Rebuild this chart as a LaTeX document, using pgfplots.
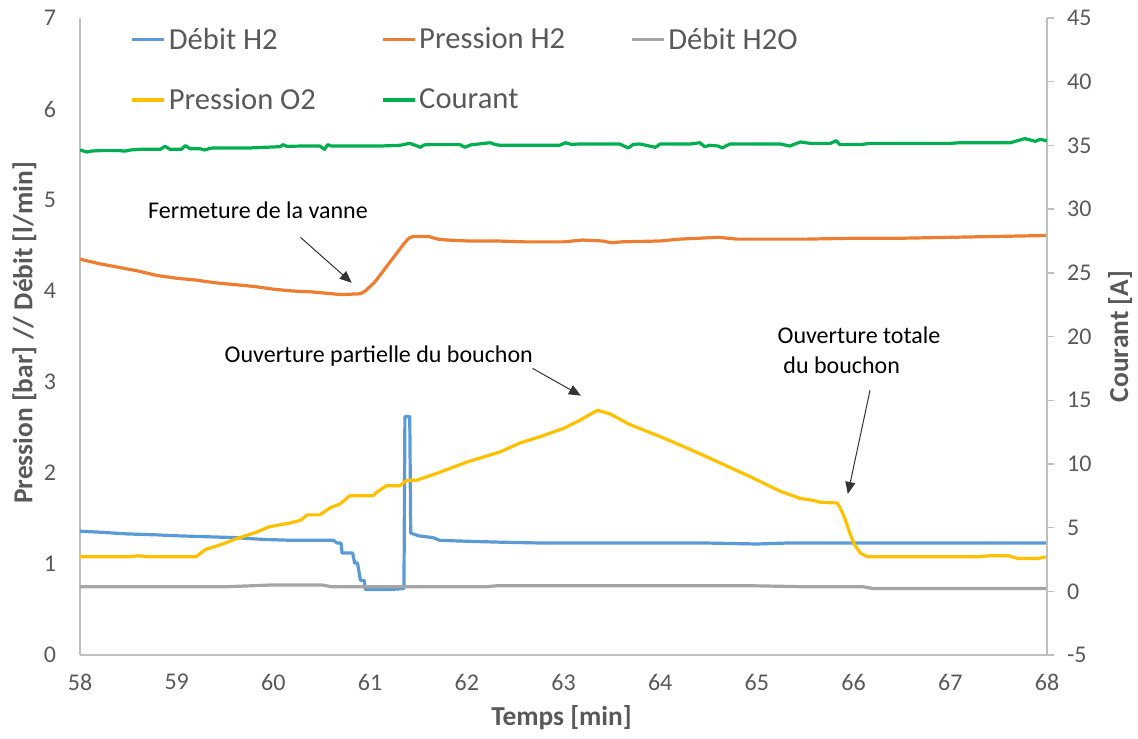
\documentclass[border=0pt]{standalone}
\usepackage{fontspec}
\setmainfont{Carlito}
\usepackage{pgfplots}
\pgfplotsset{compat=1.18}
\usetikzlibrary{arrows.meta}
\definecolor{cblue}{HTML}{5B9BD5}
\definecolor{corange}{HTML}{ED7D31}
\definecolor{cgray}{HTML}{A5A5A5}
\definecolor{cyellow}{HTML}{FFC000}
\definecolor{cgreen}{HTML}{00B050}
\definecolor{axgray}{HTML}{BFBFBF}
\definecolor{txgray}{HTML}{595959}
\pgfplotsset{
  mylines/.style={line width=1.6pt, line join=round, no marks},
  legend image code/.code={\draw[#1, line width=1.6pt] (0pt,0pt) -- (16pt,0pt);},
}
\begin{document}
\begin{tikzpicture}
\begin{axis}[
  at={(0pt,0pt)}, anchor=south west,
  scale only axis, width=483.5pt, height=318.5pt,
  xmin=58, xmax=68, ymin=0, ymax=7,
  axis y line*=left, axis x line*=bottom,
  axis line style={draw=axgray, line width=0.7pt, -},
  xtick={58,59,...,68}, ytick={0,1,...,7},
  major tick length=0pt,
  tick label style={font=\fontsize{12}{14}\selectfont, text=txgray},
  /pgf/number format/assume math mode=true,
  xticklabel style={yshift=-6pt},
  yticklabel style={xshift=-8.5pt},
  xlabel={Temps [min]},
  ylabel={Pression [bar] // Débit [l/min]},
  every axis x label/.style={at={(axis description cs:0.498,-0.099)}, anchor=center,
    font=\fontsize{13.7}{16}\selectfont\bfseries, text=txgray},
  every axis y label/.style={at={(axis description cs:-0.0574,0.5055)}, anchor=center, rotate=90,
    font=\fontsize{13.7}{16}\selectfont\bfseries, text=txgray},
  legend columns=3, legend cell align=left,
  legend style={draw=none, fill=none, at={(axis description cs:0.052,0.99)}, anchor=north west,
    font=\fontsize{15.3}{18}\selectfont, text=txgray, inner sep=0pt, row sep=15pt,
    nodes={inner sep=1.5pt},
    /tikz/every even column/.append style={column sep=31pt}},
  clip=false,
]
\addplot[mylines, cblue] coordinates {
(58.00,1.36) (58.20,1.35) (58.50,1.33) (58.80,1.32) (59.00,1.31) (59.30,1.30)
(59.60,1.29) (59.90,1.27) (60.20,1.26) (60.62,1.26) (60.66,1.23) (60.70,1.23)
(60.71,1.12) (60.82,1.12) (60.84,1.01) (60.87,1.01) (60.90,0.82) (60.94,0.82)
(60.95,0.72) (61.20,0.72) (61.35,0.73) (61.36,2.62) (61.41,2.62) (61.42,1.34)
(61.50,1.31) (61.65,1.29) (61.72,1.26) (62.00,1.25) (62.34,1.24) (62.80,1.23)
(63.50,1.23) (64.00,1.23) (64.50,1.23) (65.00,1.22) (65.30,1.23) (66.00,1.23)
(67.00,1.23) (68.00,1.23)
};
\addlegendentry{Débit H2}
\addplot[mylines, corange] coordinates {
(58.0,4.35) (58.2,4.30) (58.4,4.26) (58.6,4.22) (58.8,4.17) (59.0,4.14)
(59.2,4.12) (59.4,4.09) (59.6,4.07) (59.8,4.05) (60.0,4.02) (60.2,4.00)
(60.4,3.99) (60.6,3.97) (60.7,3.96) (60.9,3.97) (60.95,4.00) (61.0,4.05)
(61.05,4.10) (61.1,4.17) (61.15,4.24) (61.2,4.31) (61.25,4.38) (61.3,4.45)
(61.35,4.52) (61.4,4.58) (61.45,4.60) (61.6,4.60) (61.7,4.57) (61.8,4.56)
(62.0,4.55) (62.3,4.55) (62.6,4.54) (63.0,4.54) (63.2,4.56) (63.4,4.55)
(63.5,4.53) (63.6,4.54) (64.0,4.55) (64.2,4.57) (64.4,4.58) (64.6,4.59)
(64.8,4.57) (65.0,4.57) (65.5,4.57) (66.0,4.58) (66.5,4.58) (67.0,4.59)
(67.5,4.60) (68.0,4.61)
};
\addlegendentry{Pression H2}
\addplot[mylines, cgray] coordinates {
(58.00,0.75) (59.50,0.75) (60.00,0.77) (60.50,0.77) (60.60,0.75) (61.00,0.75)
(62.20,0.75) (62.30,0.76) (65.00,0.76) (65.50,0.75) (66.10,0.75) (66.20,0.73)
(68.00,0.73)
};
\addlegendentry{Débit H2O}
\addplot[mylines, cyellow] coordinates {
(58.00,1.08) (58.50,1.08) (58.60,1.09) (58.70,1.08) (59.20,1.08) (59.30,1.16)
(59.45,1.21) (59.65,1.29) (59.80,1.34) (59.96,1.41) (60.17,1.45) (60.28,1.48)
(60.35,1.54) (60.48,1.54) (60.59,1.62) (60.69,1.66) (60.79,1.75) (61.03,1.75)
(61.07,1.79) (61.17,1.86) (61.31,1.86) (61.38,1.92) (61.48,1.92) (61.70,2.00)
(62.00,2.12) (62.34,2.23) (62.55,2.33) (62.76,2.40) (63.00,2.49) (63.17,2.58)
(63.35,2.69) (63.48,2.65) (63.69,2.53) (64.00,2.40) (64.31,2.26) (64.62,2.11)
(64.93,1.96) (65.24,1.80) (65.45,1.72) (65.58,1.70) (65.65,1.68) (65.83,1.67)
(65.86,1.62) (65.91,1.50) (65.96,1.34) (66.01,1.21) (66.07,1.12) (66.14,1.08)
(67.30,1.08) (67.40,1.09) (67.60,1.09) (67.70,1.06) (67.90,1.06) (68.00,1.08)
};
\addlegendentry{Pression O2}
\addlegendimage{mylines, cgreen}
\addlegendentry{Courant}
% annotations
\node[font=\fontsize{12}{14}\selectfont, text=black] at (axis cs:59.84,4.89) {Fermeture de la vanne};
\draw[draw=black!80, line width=0.5pt, -{Triangle[length=6pt,width=5pt]}] (axis cs:60.28,4.59) -- (axis cs:60.81,4.09);
\node[font=\fontsize{12}{14}\selectfont, text=black] at (axis cs:61.09,3.29) {Ouverture partielle du bouchon};
\draw[draw=black!80, line width=0.5pt, -{Triangle[length=6pt,width=5pt]}] (axis cs:62.68,3.15) -- (axis cs:63.18,2.85);
\node[font=\fontsize{12}{14}\selectfont, text=black, anchor=west, inner sep=0pt] at (axis cs:65.21,3.51) {Ouverture totale};
\node[font=\fontsize{12}{14}\selectfont, text=black, anchor=west, inner sep=0pt] at (axis cs:65.27,3.18) {du bouchon};
\draw[draw=black!80, line width=0.5pt, -{Triangle[length=6pt,width=5pt]}] (axis cs:66.17,2.91) -- (axis cs:65.94,1.77);
\end{axis}
\begin{axis}[
  at={(0pt,0pt)}, anchor=south west,
  scale only axis, width=483.5pt, height=318.5pt,
  xmin=58, xmax=68, ymin=-5, ymax=45,
  axis y line*=right, axis x line=none,
  axis line style={draw=axgray, line width=0.7pt, -},
  ytick={-5,0,...,45},
  tick align=outside, major tick length=3.5pt,
  tick style={draw=axgray, line width=0.7pt},
  tick label style={font=\fontsize{12}{14}\selectfont, text=txgray},
  /pgf/number format/assume math mode=true,
  yticklabel style={xshift=3pt},
  ylabel={Courant [A]},
  every axis y label/.style={at={(axis description cs:1.0755,0.5)}, anchor=center, rotate=90,
    font=\fontsize{13.7}{16}\selectfont\bfseries, text=txgray},
]
\addplot[mylines, cgreen] coordinates {
(58.00,34.64) (58.07,34.48) (58.12,34.56) (58.21,34.59) (58.41,34.59) (58.47,34.55)
(58.52,34.64) (58.62,34.69) (58.83,34.69) (58.88,34.93) (58.93,34.69) (59.05,34.70)
(59.09,34.98) (59.14,34.74) (59.24,34.74) (59.29,34.64) (59.35,34.78) (59.40,34.80)
(59.76,34.80) (60.07,34.90) (60.10,35.06) (60.14,34.92) (60.28,34.95) (60.48,34.95)
(60.53,34.69) (60.56,35.06) (60.60,34.95) (60.69,34.95) (61.10,34.95) (61.31,35.01)
(61.41,35.16) (61.47,35.00) (61.52,34.85) (61.56,35.04) (61.62,35.06) (61.93,35.06)
(61.98,34.85) (62.04,35.04) (62.24,35.21) (62.30,35.06) (62.34,35.01) (62.96,35.01)
(63.02,35.21) (63.08,35.08) (63.17,35.11) (63.58,35.11) (63.67,34.80) (63.72,35.08)
(63.79,35.11) (63.95,34.85) (64.00,35.11) (64.31,35.11) (64.41,35.21) (64.46,34.90)
(64.51,35.01) (64.60,34.95) (64.64,34.80) (64.72,35.11) (65.03,35.11) (65.24,35.11)
(65.34,34.95) (65.45,35.27) (65.55,35.16) (65.76,35.16) (65.82,35.37) (65.86,35.06)
(66.07,35.06) (66.17,35.16) (67.00,35.16) (67.10,35.21) (67.62,35.21) (67.77,35.53)
(67.88,35.32) (67.93,35.48) (68.00,35.35)
};
\end{axis}
\pgfresetboundingbox
\path[use as bounding box] (-40pt,-41.5pt) rectangle (529pt,327.5pt);
\end{tikzpicture}
\end{document}
